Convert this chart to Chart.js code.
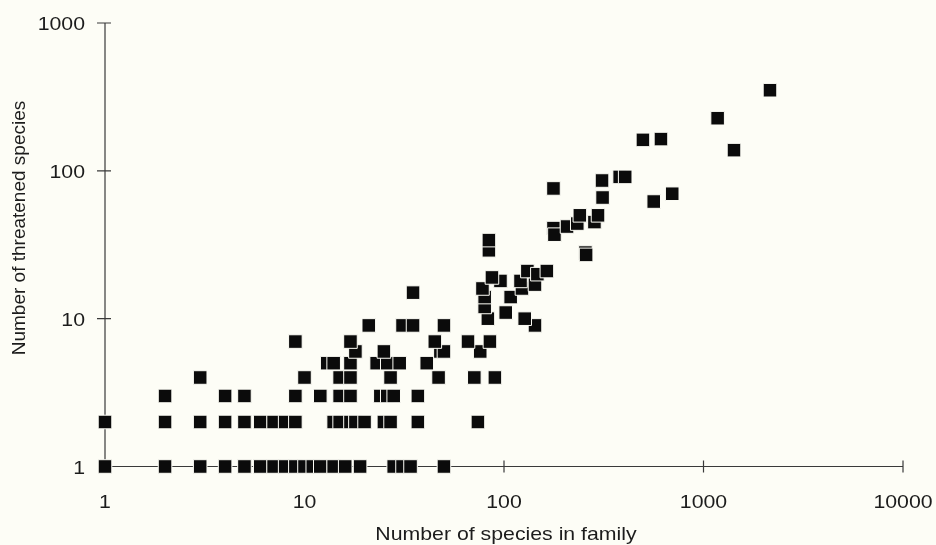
<!DOCTYPE html>
<html>
<head>
<meta charset="utf-8">
<title>Threatened species by family size</title>
<script src="https://cdn.jsdelivr.net/npm/chart.js@4/dist/chart.umd.min.js"></script>
<style>
  html, body { margin: 0; padding: 0; background: #fdfdf6; }
  #wrap { width: 936px; height: 545px; }
  canvas { display: block; }
</style>
</head>
<body>
<div id="wrap"><canvas id="chart" width="936" height="545"></canvas></div>
<script>
// Number of species in each family (x) and how many of them are threatened (y)
const familySize = [
  1, 2, 3, 4, 5, 6, 7, 8, 9, 10, 11, 12, 14, 16, 19, 28, 31, 34, 50,
  1, 2, 3, 4, 5, 6, 7, 8, 9, 14, 15, 17, 18, 20, 25, 27, 37, 74,
  2, 4, 5, 9, 12, 15, 17, 24, 26, 28, 37,
  3, 10, 15, 17, 27, 47, 71, 90,
  13, 14, 17, 23, 26, 30, 41,
  18, 25, 48, 50, 76,
  9, 17, 45, 66, 85,
  21, 31, 35, 50, 143,
  83, 127, 102, 80, 80, 108, 35, 78, 123,
  96, 143, 87, 121, 131, 147, 164,
  84, 84, 256, 258,
  177, 179, 207, 233, 240, 284, 296,
  563, 312, 697, 177, 310, 380, 405,
  497, 612, 1422, 1177, 2154
];
const threatened = [
  1, 1, 1, 1, 1, 1, 1, 1, 1, 1, 1, 1, 1, 1, 1, 1, 1, 1, 1,
  2, 2, 2, 2, 2, 2, 2, 2, 2, 2, 2, 2, 2, 2, 2, 2, 2, 2,
  3, 3, 3, 3, 3, 3, 3, 3, 3, 3, 3,
  4, 4, 4, 4, 4, 4, 4, 4,
  5, 5, 5, 5, 5, 5, 5,
  6, 6, 6, 6, 6,
  7, 7, 7, 7, 7,
  9, 9, 9, 9, 9,
  10, 10, 11, 12, 14, 14, 15, 16, 16,
  18, 17, 19, 18, 21, 20, 21,
  29, 34, 28, 27,
  41, 37, 42, 44, 50, 45, 50,
  62, 66, 70, 76, 86, 91, 91,
  162, 164, 138, 227, 351
];

// Axis ticks and titles
const xTicks = [1, 10, 100, 1000, 10000];
const yTicks = [1, 10, 100, 1000];
const xTitle = 'Number of species in family';
const yTitle = 'Number of threatened species';

const points = familySize.map((x, i) => ({ x: x, y: threatened[i] }));

const INK = '#1c1c1c';
const PAPER = '#fdfdf6';
const FONT = '19px "Liberation Sans", Arial, Helvetica, sans-serif';
const STRETCH = 1.12;

function stretchedText(ctx, text, x, y, align) {
  ctx.save();
  ctx.translate(x, y);
  ctx.scale(STRETCH, 1);
  ctx.textAlign = align;
  ctx.textBaseline = 'alphabetic';
  ctx.fillText(text, 0, 0);
  ctx.restore();
}

// Paper background, then axis lines, tick marks and labels under the markers
const axesPlugin = {
  id: 'plainAxes',
  beforeDraw(chart) {
    const ctx = chart.ctx;
    ctx.save();
    ctx.fillStyle = PAPER;
    ctx.fillRect(0, 0, chart.width, chart.height);
    ctx.restore();
  },
  beforeDatasetsDraw(chart) {
    const ctx = chart.ctx;
    const xs = chart.scales.x, ys = chart.scales.y;
    const x0 = xs.getPixelForValue(1);
    const y0 = ys.getPixelForValue(1);
    const xEnd = xs.getPixelForValue(xTicks[xTicks.length - 1]);
    const yEnd = ys.getPixelForValue(yTicks[yTicks.length - 1]);

    ctx.save();
    ctx.strokeStyle = '#3a3a3a';
    ctx.lineWidth = 1.2;
    ctx.beginPath();
    ctx.moveTo(x0, yEnd);
    ctx.lineTo(x0, y0);
    ctx.lineTo(xEnd, y0);
    // y tick marks cross the axis
    yTicks.forEach(v => {
      if (v === 1) return;
      const py = ys.getPixelForValue(v);
      ctx.moveTo(x0 - 8, py);
      ctx.lineTo(x0 + 6, py);
    });
    // x tick marks cross the axis
    xTicks.forEach(v => {
      if (v === 1) return;
      const px = xs.getPixelForValue(v);
      ctx.moveTo(px, y0 - 6);
      ctx.lineTo(px, y0 + 6);
    });
    ctx.stroke();

    ctx.fillStyle = INK;
    ctx.font = FONT;
    yTicks.forEach(v => {
      const py = ys.getPixelForValue(v);
      stretchedText(ctx, String(v), 85, py + 7, 'right');
    });
    xTicks.forEach(v => {
      const px = xs.getPixelForValue(v);
      stretchedText(ctx, String(v), px, 508, 'center');
    });

    // axis titles
    stretchedText(ctx, xTitle, 506, 540, 'center');
    ctx.save();
    ctx.translate(25, 228);
    ctx.rotate(-Math.PI / 2);
    ctx.textAlign = 'center';
    ctx.textBaseline = 'alphabetic';
    ctx.fillText(yTitle, 0, 0);
    ctx.restore();
    ctx.restore();
  }
};

new Chart(document.getElementById('chart'), {
  type: 'scatter',
  data: {
    datasets: [{
      data: points,
      pointStyle: 'rect',
      pointRadius: 9.6,
      pointHoverRadius: 9.6,
      backgroundColor: '#0b0b0b',
      borderColor: PAPER,
      borderWidth: 1,
      clip: false
    }]
  },
  options: {
    responsive: false,
    animation: false,
    events: [],
    layout: { padding: { left: 105, right: 33, top: 23, bottom: 78.5 } },
    scales: {
      x: { type: 'logarithmic', min: 1, max: 10000, display: false },
      y: { type: 'logarithmic', min: 1, max: 1000, display: false }
    },
    plugins: {
      legend: { display: false },
      tooltip: { enabled: false }
    }
  },
  plugins: [axesPlugin]
});
</script>
</body>
</html>
